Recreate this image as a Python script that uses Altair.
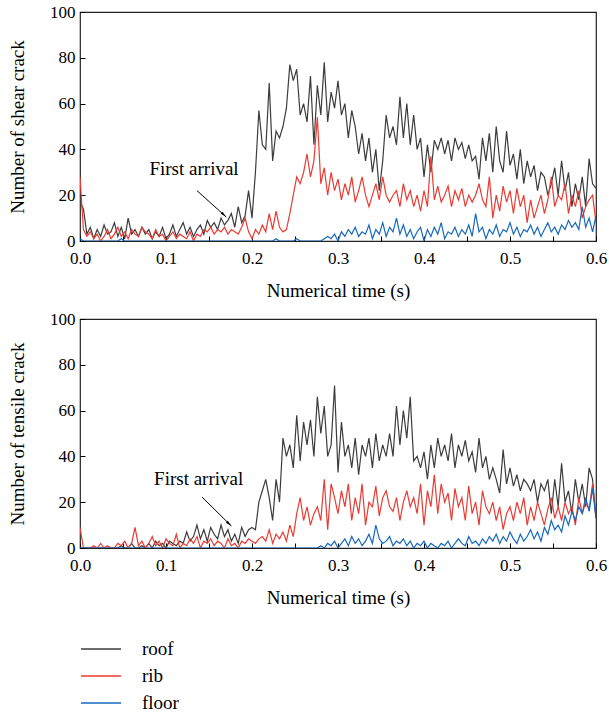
import altair as alt
import pandas as pd

# ---------------- data ----------------
STEP = 0.004  # s between samples, 151 samples from 0.0 to 0.6 s
SERIES = ["roof", "rib", "floor"]
COLORS = ["#3c3c3c", "#ea3b33", "#1769bd"]

X_TICKS = [0.0, 0.05, 0.1, 0.15, 0.2, 0.25, 0.3, 0.35, 0.4, 0.45, 0.5, 0.55, 0.6]
Y_TICKS = [0, 10, 20, 30, 40, 50, 60, 70, 80, 90, 100]

shear_roof = [
    17, 14, 3, 6, 1, 5, 2, 7, 3, 4,
    8, 2, 6, 1, 10, 3, 5, 2, 6, 3,
    5, 1, 4, 2, 6, 1, 3, 7, 2, 5,
    8, 3, 6, 2, 5, 7, 3, 9, 6, 8,
    5, 10, 7, 9, 12, 6, 15, 8, 11, 22,
    10, 30, 57, 42, 40, 69, 35, 48, 45, 50,
    58, 77, 70, 75, 55, 60, 52, 72, 42, 68,
    55, 78, 52, 65, 58, 70, 55, 60, 45, 57,
    50, 38, 47, 35, 45, 30, 40, 22, 35, 55,
    45, 50, 42, 63, 45, 60, 42, 55, 40, 45,
    28, 42, 30, 44, 40, 45, 38, 44, 35, 45,
    40, 43, 36, 42, 35, 37, 27, 45, 35, 47,
    30, 50, 35, 30, 48, 33, 38, 27, 40, 25,
    35, 28, 33, 22, 30, 28, 20, 25, 32, 20,
    35, 22, 30, 15, 25, 18, 28, 15, 36, 25,
    23,
]
shear_rib = [
    28, 5, 2, 4, 1, 3, 0, 2, 5, 1,
    3, 6, 2, 4, 1, 5, 3, 2, 6, 4,
    3, 1, 5, 2, 3, 0, 2, 4, 1, 3,
    2, 1, 4, 0, 3, 2, 5, 4, 6, 3,
    5, 4, 6, 3, 5, 4, 3, 6, 10, 4,
    1, 5, 3, 7, 4, 12, 5, 13, 6, 4,
    5, 12, 20, 28, 25, 30, 38, 28, 35, 54,
    25, 32, 20, 30, 22, 27, 18, 25, 20, 28,
    17, 22, 28, 20, 15, 20, 25, 18, 28, 20,
    17, 20, 22, 15, 25, 18, 22, 15, 20, 13,
    22, 15, 37, 18, 24, 17, 20, 24, 15, 22,
    18, 23, 15, 20, 17, 20, 25, 18, 15, 28,
    10, 20, 13, 24, 17, 22, 12, 23, 15, 20,
    8, 18, 10, 15, 20, 12, 18, 28, 15, 20,
    18, 25, 12, 20, 15, 22, 10, 15, 18, 20,
    8,
]
shear_floor = [
    1, 0, 0, 0, 0, 0, 0, 0, 0, 0,
    0, 0, 1, 0, 0, 0, 0, 0, 0, 0,
    0, 0, 0, 0, 0, 0, 0, 0, 0, 0,
    0, 0, 0, 0, 0, 0, 0, 0, 0, 0,
    0, 0, 0, 0, 0, 0, 0, 0, 0, 0,
    0, 0, 0, 0, 0, 0, 0, 1, 0, 0,
    0, 0, 0, 1, 0, 0, 0, 0, 0, 0,
    0, 1, 2, 1, 3, 0, 4, 2, 5, 3,
    6, 2, 4, 3, 7, 1, 5, 3, 8, 2,
    6, 4, 10, 3, 7, 2, 5, 1, 4, 6,
    0, 5, 2, 6, 3, 8, 1, 4, 3, 6,
    2, 5, 3, 7, 2, 12, 4, 6, 1, 5,
    3, 7, 2, 5, 4, 8, 3, 6, 2, 5,
    4, 7, 3, 6, 2, 5, 8, 4, 6, 3,
    7, 5, 9, 6, 8, 5, 15, 6, 10, 4,
    11,
]

tensile_roof = [
    0, 0, 0, 0, 0, 0, 0, 0, 0, 0,
    0, 0, 1, 0, 0, 2, 0, 0, 1, 0,
    2, 0, 3, 1, 2, 0, 3, 2, 1, 3,
    2, 7, 3, 5, 10, 4, 8, 3, 9, 6,
    4, 10, 5, 8, 3, 6, 2, 9, 5, 8,
    9, 8, 20, 25, 30, 22, 12, 30, 20, 48,
    40, 45, 35, 58, 38, 55, 45, 56, 40, 66,
    50, 62, 40, 45, 71, 33, 55, 40, 45, 35,
    48, 32, 45, 40, 48, 35, 50, 38, 45, 40,
    50, 40, 62, 45, 60, 48, 66, 38, 40, 35,
    42, 30, 45, 35, 48, 40, 45, 38, 50, 35,
    45, 40, 47, 38, 42, 33, 48, 35, 40, 30,
    35, 30, 24, 43, 28, 35, 27, 32, 25, 30,
    28, 25, 30, 20, 28, 25, 30, 15, 30, 18,
    37, 20, 25, 15, 30, 20, 28, 18, 35, 30,
    13,
]
tensile_rib = [
    9, 0, 0, 0, 1, 0, 2, 0, 1, 0,
    0, 2, 1, 3, 0, 2, 9, 1, 3, 0,
    2, 5, 1, 3, 0, 4, 2, 1, 6, 0,
    2, 1, 4, 2, 5, 0, 3, 2, 4, 1,
    3, 2, 0, 4, 1, 2, 0, 3, 2, 4,
    3, 2, 4, 5, 3, 8, 2, 6, 4, 7,
    3, 10, 5, 15, 22, 12, 18, 10, 15, 18,
    12, 30, 8, 28, 22, 15, 25, 18, 28, 12,
    22, 15, 28, 10, 20, 18, 27, 14, 22, 25,
    18, 16, 22, 12, 20, 25, 18, 22, 15, 28,
    10, 25, 18, 32, 15, 28, 20, 24, 12, 26,
    18, 22, 12, 27, 15, 20, 10, 25, 18, 15,
    20, 12, 18, 8, 15, 18, 12, 20, 15, 22,
    10, 18, 12, 20, 15, 10, 17, 22, 13, 18,
    12, 20, 15, 18, 10, 22, 15, 20, 17, 28,
    13,
]
tensile_floor = [
    0, 0, 0, 0, 0, 0, 0, 0, 0, 0,
    0, 0, 0, 0, 0, 0, 0, 0, 0, 0,
    0, 0, 0, 0, 0, 0, 0, 0, 0, 0,
    0, 0, 0, 0, 0, 0, 0, 0, 0, 0,
    0, 0, 0, 0, 0, 0, 0, 0, 0, 0,
    0, 0, 0, 0, 0, 0, 0, 0, 0, 0,
    0, 0, 0, 0, 0, 0, 0, 0, 0, 0,
    1, 0, 2, 1, 3, 0, 2, 4, 1, 5,
    2, 4, 1, 3, 6, 2, 10, 4, 2, 3,
    5, 1, 3, 2, 4, 1, 3, 0, 2, 1,
    3, 0, 2, 1, 0, 2, 1, 3, 0, 2,
    4, 2, 1, 5, 2, 3, 1, 4, 2, 5,
    3, 6, 2, 5, 3, 7, 4, 2, 6, 3,
    5, 8, 4, 7, 3, 9, 6, 12, 8, 10,
    7, 14, 10, 16, 12, 18, 15, 22, 16, 26,
    13,
]

# "First arrival" annotations (data units): [shear panel, tensile panel]
ANN_LABEL = "First arrival"
ann_text_x = [0.1326, 0.138]
ann_text_y = [31.4, 30.0]
arrow_x = [0.136, 0.142]
arrow_y = [22.0, 22.2]
arrow_x2 = [0.170, 0.176]
arrow_y2 = [10.5, 9.6]

FONT = "Liberation Serif, Times New Roman, serif"


def long_df(roof, rib, floor):
    rows = []
    for name, vals in zip(SERIES, [roof, rib, floor]):
        for i, v in enumerate(vals):
            rows.append({"time": round(i * STEP, 3), "value": v, "series": name})
    return pd.DataFrame(rows)


def panel(df, k, ytitle):
    x_axis = alt.Axis(
        values=X_TICKS,
        labelExpr="abs(round(datum.value*10) - datum.value*10) < 0.001 ? format(datum.value, '.1f') : ''",
        title="Numerical time (s)",
        grid=False, domain=False, offset=-5, tickSize=5, tickColor="black",
        labelPadding=9, titlePadding=15, labelFlush=False, labelOverlap=False,
        labelFont=FONT, labelFontSize=17, labelColor="black",
        titleFont=FONT, titleFontSize=19, titleFontWeight="normal", titleColor="black",
    )
    y_axis = alt.Axis(
        values=Y_TICKS,
        labelExpr="datum.value % 20 == 0 ? datum.label : ''",
        title=ytitle,
        grid=False, domain=False, offset=-5, tickSize=5, tickColor="black",
        labelPadding=5, titlePadding=22, labelFlush=False, labelOverlap=False,
        labelFont=FONT, labelFontSize=17, labelColor="black",
        titleFont=FONT, titleFontSize=19, titleFontWeight="normal", titleColor="black",
    )
    xs = alt.Scale(domain=[0, 0.6], nice=False)
    ys = alt.Scale(domain=[0, 100], nice=False)

    lines = alt.Chart(df).mark_line(strokeWidth=1.2, clip=True).encode(
        x=alt.X("time:Q", scale=xs, axis=x_axis),
        y=alt.Y("value:Q", scale=ys, axis=y_axis),
        color=alt.Color(
            "series:N",
            scale=alt.Scale(domain=SERIES, range=COLORS),
            sort=SERIES,
            legend=alt.Legend(
                title=None, orient="bottom", direction="vertical",
                symbolType="M-1,0L3,0", symbolSize=400, symbolStrokeWidth=1.5,
                labelFont=FONT, labelFontSize=19, labelColor="black",
                labelOffset=40, rowPadding=6, offset=30,
            ),
        ),
    )
    ann = pd.DataFrame({
        "tx": [ann_text_x[k]], "ty": [ann_text_y[k]], "label": [ANN_LABEL],
        "ax": [arrow_x[k]], "ay": [arrow_y[k]], "ax2": [arrow_x2[k]], "ay2": [arrow_y2[k]],
    })
    text = alt.Chart(ann).mark_text(font=FONT, fontSize=19, color="black").encode(
        x=alt.X("tx:Q", scale=xs), y=alt.Y("ty:Q", scale=ys), text="label:N"
    )
    rule = alt.Chart(ann).mark_rule(color="black", strokeWidth=1).encode(
        x=alt.X("ax:Q", scale=xs), y=alt.Y("ay:Q", scale=ys),
        x2="ax2:Q", y2="ay2:Q",
    )
    head = alt.Chart(ann).mark_point(
        shape="M0,0L-0.35,1.6L0.35,1.6Z", filled=True, color="black",
        size=60, angle=133, opacity=1,
    ).encode(x=alt.X("ax2:Q", scale=xs), y=alt.Y("ay2:Q", scale=ys))
    return alt.layer(lines, rule, head, text).properties(width=516, height=229)


top = panel(long_df(shear_roof, shear_rib, shear_floor), 0, "Number of shear crack")
bottom = panel(long_df(tensile_roof, tensile_rib, tensile_floor), 1, "Number of tensile crack")

chart = alt.vconcat(top, bottom, spacing=8).properties(
    padding={"left": 7, "top": 2, "right": 0, "bottom": 0},
    background="white",
).configure_view(
    stroke="#222222", strokeWidth=1.2
)

chart.save("out.html", embed_options={"renderer": "svg", "actions": False})
